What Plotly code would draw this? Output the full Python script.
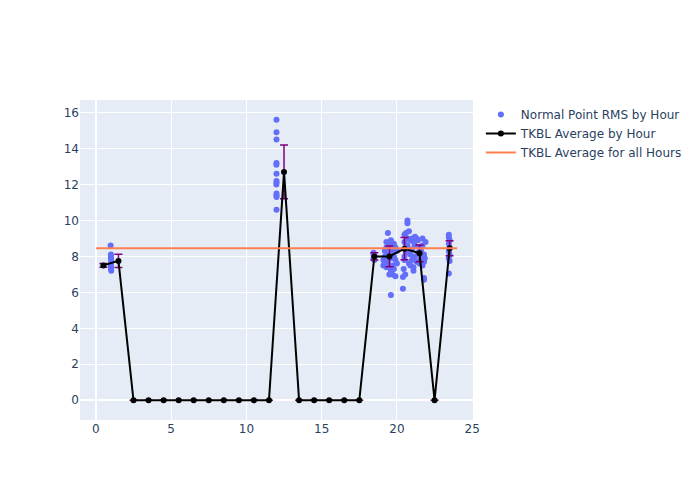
import plotly.graph_objects as go

# Scatter: individual normal point RMS values by (fractional) hour
pt_hours = [0.98, 1.0, 1.0, 1.0, 1.02, 0.99, 1.01, 1.0, 1.0, 1.02,
            12.0, 12.0, 12.0, 12.0, 11.99, 12.0, 12.0, 12.0, 11.99, 12.0, 12.0, 12.0, 12.0,
            18.45, 18.45, 18.5, 18.45, 18.5,
            19.1, 19.1, 19.2, 19.2, 19.2, 19.3, 19.3, 19.3, 19.4, 19.4, 19.4, 19.5, 19.5, 19.5,
            19.6, 19.6, 19.6, 19.6, 19.6, 19.7, 19.7, 19.7, 19.8, 19.8, 19.8, 19.9, 19.9, 19.9,
            20.0, 20.0,
            20.4, 20.4, 20.45, 20.5, 20.5, 20.5, 20.5, 20.55, 20.6, 20.6, 20.6, 20.7, 20.7, 20.7,
            20.7, 20.8, 20.8, 20.8, 20.9, 20.9, 20.9, 21.0, 21.0, 21.0, 21.1, 21.1, 21.1, 21.2,
            21.2, 21.2, 21.3, 21.3, 21.4, 21.4, 21.5, 21.5, 21.6, 21.6, 21.7, 21.7, 21.7, 21.8,
            21.8, 21.8, 21.8, 21.9, 21.85,
            23.45, 23.45, 23.5, 23.45, 23.5, 23.45, 23.5, 23.45, 23.5, 23.45]
pt_rms = [8.6, 8.1, 8.0, 7.9, 7.8, 7.6, 7.5, 7.4, 7.3, 7.2,
          15.6, 14.9, 14.5, 13.2, 13.1, 12.6, 12.2, 12.1, 12.0, 11.5, 11.4, 11.3, 10.6,
          8.2, 8.1, 8.0, 7.9, 7.8,
          7.5, 7.8, 8.0, 8.3, 7.6, 8.8, 7.4, 8.5, 9.3, 8.1, 7.7, 7.0, 7.4, 8.6,
          5.85, 8.9, 8.4, 7.9, 7.2, 8.2, 7.5, 7.0, 8.7, 8.0, 7.3, 8.5, 7.8, 6.9,
          8.3, 7.6,
          6.2, 6.85, 7.3, 9.2, 8.8, 8.0, 7.8, 7.0, 9.3, 8.5, 8.2, 10.0, 9.85, 9.0,
          8.6, 9.4, 8.3, 7.6, 8.9, 8.1, 7.5, 9.0, 8.4, 7.8, 7.2, 8.8, 7.4, 9.1,
          8.6, 8.0, 9.0, 7.7, 8.9, 8.2, 8.5, 7.6, 8.3, 7.9, 9.0, 8.6, 7.5, 6.8,
          6.7, 8.1, 7.7, 8.8, 7.9,
          9.2, 9.05, 8.9, 8.7, 8.5, 8.3, 8.1, 7.9, 7.75, 7.05]

# Hourly averages
avg_hours = [0.5, 1.5, 2.5, 3.5, 4.5, 5.5, 6.5, 7.5, 8.5, 9.5, 10.5, 11.5,
             12.5, 13.5, 14.5, 15.5, 16.5, 17.5, 18.5, 19.5, 20.5, 21.5, 22.5, 23.5]
avg_rms = [7.5, 7.75, 0, 0, 0, 0, 0, 0, 0, 0, 0, 0,
           12.7, 0, 0, 0, 0, 0, 8.0, 8.0, 8.43, 8.17, 0, 8.45]
avg_err = [0.1, 0.37, 0, 0, 0, 0, 0, 0, 0, 0, 0, 0,
           1.5, 0, 0, 0, 0, 0, 0.2, 0.58, 0.62, 0.47, 0, 0.42]

overall_x = [0, 24]
overall_avg = 8.45

fig = go.Figure()
fig.add_trace(go.Scatter(
    x=pt_hours, y=pt_rms, mode="markers", name="Normal Point RMS by Hour",
    marker=dict(color="#636efa", size=6)))
fig.add_trace(go.Scatter(
    x=avg_hours, y=avg_rms, mode="lines+markers", name="TKBL Average by Hour",
    line=dict(color="black", width=2), marker=dict(color="black", size=6),
    error_y=dict(type="data", array=avg_err, visible=True, color="purple",
                 thickness=1.5, width=4)))
fig.add_trace(go.Scatter(
    x=overall_x, y=[overall_avg] * len(overall_x), mode="lines",
    name="TKBL Average for all Hours", line=dict(color="coral", width=2)))

fig.update_layout(width=700, height=500, template="plotly",
                  font=dict(family="DejaVu Sans"))
fig.write_html("out.html")
